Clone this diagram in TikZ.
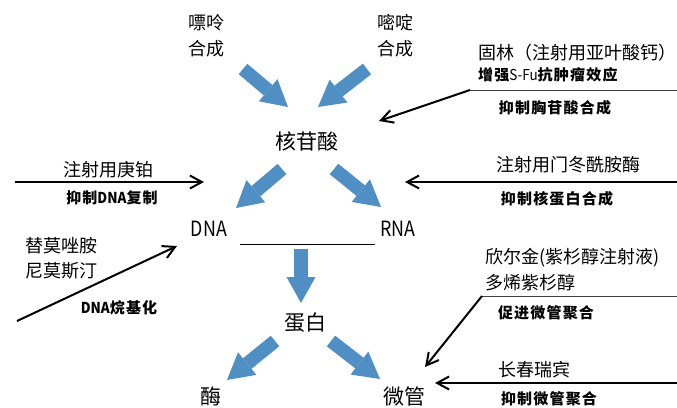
\documentclass[tikz,border=0pt]{standalone}
\usepackage{fontspec}
\setmainfont{Noto Sans CJK SC}
\newfontfamily\cjkbold{Noto Sans CJK SC}[LetterSpace=8]
\newfontfamily\latinb{Noto Sans CJK SC}[FakeStretch=0.9]
\newfontfamily\narrowfont{Noto Sans CJK SC}[FakeStretch=0.85]
\usetikzlibrary{arrows.meta}
\definecolor{bluearr}{RGB}{79,143,196}
\tikzset{
  main/.style={font=\fontsize{21}{21}\selectfont, inner sep=0pt},
  dnastyle/.style={font=\narrowfont\fontsize{21}{21}\selectfont, inner sep=0pt},
  lbl/.style={font=\fontsize{18}{18}\selectfont, inner sep=0pt},
  blbl/.style={font=\cjkbold\bfseries\fontsize{15}{15}\selectfont, inner sep=0pt},
  bigarrow/.style={draw=bluearr, line width=13.5pt, -{Triangle[width=29pt,length=26pt,line width=0pt]}},
  karrow/.style={draw=black, line width=2pt, -{Straight Barb[length=12pt,width=13pt]}},
  sepline/.style={draw=black!75, line width=1pt}
}
\begin{document}
\begin{tikzpicture}[x=1pt,y=-1pt]
\useasboundingbox (0,0) rectangle (677,407);
% main nodes
\node[lbl] (piaoling) at (206,23) {嘌呤};
\node[lbl] (piaoling2) at (206,49) {合成};
\node[lbl] (miding) at (395,23) {嘧啶};
\node[lbl] (miding2) at (395,49) {合成};
\node[main] (hgs) at (307,141) {核苷酸};
\node[dnastyle] (dna) at (209,229) {DNA};
\node[dnastyle] (rna) at (398,229) {RNA};
\node[main] (db) at (305,323) {蛋白};
\node[main] (mei) at (211,396) {酶};
\node[main] (wg) at (404,396) {微管};
% labels
\node[lbl] (l1) at (108,170) {注射用庚铂};
\node[blbl] (l1b) at (112,198) {抑制{\latinb DNA}复制};
\node[lbl, anchor=west] (l2) at (25,246) {替莫唑胺};
\node[lbl, anchor=west] (l2b) at (25,271) {尼莫斯汀};
\node[blbl] (l2c) at (119,308) {{\latinb DNA}烷基化};
\node[lbl, anchor=west] (r1) at (478,53) {固林（注射用亚叶酸钙）};
\node[blbl, anchor=west] (r1b) at (478,75) {增强{\latinb\mdseries S-Fu}抗肿瘤效应};
\node[blbl] (r1c) at (555,108) {抑制胸苷酸合成};
\node[lbl] (r2) at (568,165) {注射用门冬酰胺酶};
\node[blbl] (r2b) at (557,199) {抑制核蛋白合成};
\node[lbl, anchor=west] (r3) at (485,258) {欣尔金(紫杉醇注射液)};
\node[lbl, anchor=west] (r3b) at (485,283) {多烯紫杉醇};
\node[blbl] (r3c) at (546,313) {促进微管聚合};
\node[lbl, anchor=west] (r4) at (498,370) {长春瑞宾};
\node[blbl] (r4b) at (549,399) {抑制微管聚合};
% blue arrows
\coordinate (b1s) at (243,69);  \coordinate (b1e) at (288,107);
\coordinate (b2s) at (367,69);  \coordinate (b2e) at (318,107);
\coordinate (b3s) at (282,169); \coordinate (b3e) at (236,208);
\coordinate (b4s) at (334,169); \coordinate (b4e) at (381,207);
\coordinate (b5s) at (301,249); \coordinate (b5e) at (301,303);
\coordinate (b6s) at (275,341); \coordinate (b6e) at (227,380);
\coordinate (b7s) at (331,341); \coordinate (b7e) at (380,379);
\foreach \i in {1,...,7} { \draw[bigarrow] (b\i s) -- (b\i e); }
% DNA--RNA line
\coordinate (dl) at (240,244); \coordinate (rl) at (375,244);
\draw[sepline, draw=black] (dl) -- (rl);
% black arrows
\coordinate (k1s) at (15,182);  \coordinate (k1e) at (204,182);
\coordinate (k2s) at (17,321);  \coordinate (k2e) at (177,246);
\coordinate (k3s) at (677,90);  \coordinate (k3m) at (470,90); \coordinate (k3e) at (379,121);
\coordinate (k4s) at (677,182); \coordinate (k4e) at (405,182);
\coordinate (k5s) at (677,296); \coordinate (k5m) at (482,296); \coordinate (k5e) at (425,367);
\coordinate (k6s) at (677,383); \coordinate (k6e) at (435,383);
\draw[karrow] (k1s) -- (k1e);
\draw[karrow] (k2s) -- (k2e);
\draw[sepline] (k3s) -- (k3m);
\draw[karrow] (k3m) -- (k3e);
\draw[karrow] (k4s) -- (k4e);
\draw[sepline] (k5s) -- (k5m);
\draw[karrow] (k5m) -- (k5e);
\draw[karrow] (k6s) -- (k6e);
\end{tikzpicture}
\end{document}
